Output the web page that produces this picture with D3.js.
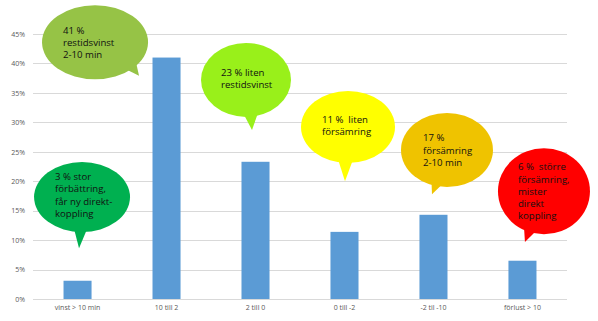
<!DOCTYPE html>
<html>
<head>
<meta charset="utf-8">
<script src="https://cdn.jsdelivr.net/npm/d3@7"></script>
<style>
  body { margin: 0; background: #fff; }
  svg text { font-family: "Open Sans", "Liberation Sans", sans-serif; }
</style>
</head>
<body>
<svg id="chart"></svg>
<script>
var width = 598, height = 321;
var margin = {top: 34, right: 31, bottom: 22, left: 33};

// data
var categories = ["vinst > 10 min", "10 till 2", "2 till 0", "0 till -2", "-2 til -10", "förlust > 10"];
var shares = [3.1, 41, 23.3, 11.4, 14.3, 6.5];
var yTicks = [0, 5, 10, 15, 20, 25, 30, 35, 40, 45];

// callout texts, one per category
var calloutText = [
  ["3 % stor", "förbättring,", "får ny direkt-", "koppling"],
  ["41 %", "restidsvinst", "2-10 min"],
  ["23 % liten", "restidsvinst"],
  ["11 %  liten", "försämring"],
  ["17 %", "försämring", "2-10 min"],
  ["6 %  större", "försämring,", "mister", "direkt", "koppling"]
];
var calloutColors = ["#00b050", "#96c346", "#99f01a", "#ffff00", "#efc300", "#ff0000"];

// callout layout: anchored to a category (index) and a value on the y axis
var calloutLayout = [
  {cat: 0, dx: 4.5,  v: 17.3, rx: 48, ry: 35, tipDx: 1.5,  tipV: 8.6,  a1: 101, a2: 83, tx: -27, ty: -17, lh: 12.3},
  {cat: 0, dx: 17.5, v: 43.6, rx: 53, ry: 37, tipDx: 61.5, tipV: 37.9, a1: 52,  a2: 32, tx: -32, ty: -8,  lh: 11.7},
  {cat: 2, dx: -9.5, v: 37.2, rx: 45, ry: 37, tipDx: -3.5, tipV: 28.7, a1: 94,  a2: 72, tx: -25, ty: -4,  lh: 11.6},
  {cat: 3, dx: 3.5,  v: 29.2, rx: 47, ry: 36, tipDx: 0.5,  tipV: 20.0, a1: 104, a2: 83, tx: -26, ty: -4,  lh: 12},
  {cat: 4, dx: 13.5, v: 25.3, rx: 46, ry: 37, tipDx: -1.5, tipV: 17.8, a1: 112, a2: 95, tx: -24, ty: -9,  lh: 12.5},
  {cat: 5, dx: 21.5, v: 18.3, rx: 46, ry: 43, tipDx: 2.5,  tipV: 9.7,  a1: 119, a2: 99, tx: -26, ty: -21, lh: 12.3}
];

var svg = d3.select("#chart")
  .attr("width", width)
  .attr("height", height);

var x = d3.scaleBand()
  .domain(categories)
  .range([margin.left, width - margin.right])
  .paddingInner(0.685)
  .paddingOuter(0.343);

var y = d3.scaleLinear()
  .domain([0, 45])
  .range([height - margin.bottom, margin.top]);

// gridlines
svg.append("g")
  .selectAll("line")
  .data(yTicks)
  .enter().append("line")
    .attr("x1", margin.left)
    .attr("x2", width - margin.right)
    .attr("y1", function(d) { return Math.round(y(d)) + 0.5; })
    .attr("y2", function(d) { return Math.round(y(d)) + 0.5; })
    .attr("stroke", "#d9d9d9")
    .attr("stroke-width", 1);

// y axis labels
var yAxis = svg.append("g")
  .attr("transform", "translate(" + margin.left + ",0)")
  .call(d3.axisLeft(y).tickValues(yTicks).tickSize(0).tickPadding(8)
    .tickFormat(function(d) { return d + "%"; }));
yAxis.select(".domain").remove();
yAxis.selectAll("text")
  .attr("fill", "#595959")
  .style("font-size", "7px");

// x axis labels
var xAxis = svg.append("g")
  .attr("transform", "translate(0," + (height - margin.bottom) + ")")
  .call(d3.axisBottom(x).tickSize(0).tickPadding(6));
xAxis.select(".domain").remove();
xAxis.selectAll("text")
  .attr("fill", "#595959")
  .style("font-size", "7px");

// bars
svg.append("g")
  .selectAll("rect")
  .data(shares)
  .enter().append("rect")
    .attr("x", function(d, i) { return x(categories[i]); })
    .attr("width", x.bandwidth())
    .attr("y", function(d) { return y(d); })
    .attr("height", function(d) { return y(0) - y(d); })
    .attr("fill", "#5b9bd5");

// speech bubbles
var bubbles = svg.append("g")
  .selectAll("g")
  .data(calloutLayout)
  .enter().append("g");

function center(d) {
  return [x(categories[d.cat]) + x.bandwidth() / 2 + d.dx, y(d.v)];
}

bubbles.append("path")
  .attr("d", function(d) {
    var c = center(d);
    var tip = [x(categories[d.cat]) + x.bandwidth() / 2 + d.tipDx, y(d.tipV)];
    var r1 = d.a1 * Math.PI / 180, r2 = d.a2 * Math.PI / 180;
    var p1 = [c[0] + 0.9 * d.rx * Math.cos(r1), c[1] + 0.9 * d.ry * Math.sin(r1)];
    var p2 = [c[0] + 0.9 * d.rx * Math.cos(r2), c[1] + 0.9 * d.ry * Math.sin(r2)];
    return "M" + p1 + "L" + tip + "L" + p2 + "Z";
  })
  .attr("fill", function(d, i) { return calloutColors[i]; });

bubbles.append("ellipse")
  .attr("cx", function(d) { return center(d)[0]; })
  .attr("cy", function(d) { return center(d)[1]; })
  .attr("rx", function(d) { return d.rx; })
  .attr("ry", function(d) { return d.ry; })
  .attr("fill", function(d, i) { return calloutColors[i]; });

bubbles.each(function(d, i) {
  var c = center(d);
  var t = d3.select(this).append("text")
    .attr("fill", "#111")
    .style("font-size", "9.6px")
    .style("white-space", "pre");
  calloutText[i].forEach(function(line, j) {
    t.append("tspan")
      .attr("x", c[0] + d.tx)
      .attr("y", c[1] + d.ty + j * d.lh)
      .text(line);
  });
});
</script>
</body>
</html>
